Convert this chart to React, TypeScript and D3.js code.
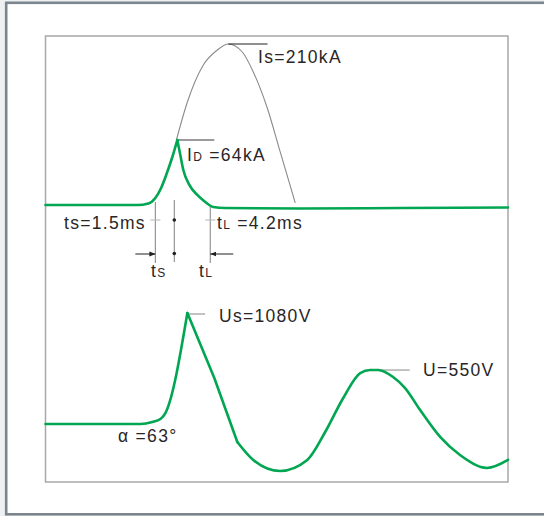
import * as d3 from "d3"

// time axis (schematic ms) and values
const currentRise = [
  { t: 0, v: 2.5 }, { t: 4.75, v: 2.5 }, { t: 7.95, v: 2.5 }, { t: 8.9, v: 4.5 },
  { t: 9.5, v: 11.6 }, { t: 10.0, v: 24.5 }, { t: 10.5, v: 43.8 }, { t: 10.97, v: 64.4 },
  { t: 11.4, v: 86.3 },
]
const currentDecay = [
  { t: 11.4, v: 86.3 }, { t: 11.66, v: 67 }, { t: 11.92, v: 47.7 }, { t: 12.44, v: 28.4 },
  { t: 13.13, v: 15.5 }, { t: 13.82, v: 6.4 }, { t: 14.51, v: 0 }, { t: 15.55, v: -1.3 },
  { t: 22.03, v: -1.9 }, { t: 30.67, v: -1.3 }, { t: 40, v: -0.6 },
]
const surgeArch = [
  { t: 11.32, v: 86.3 }, { t: 12.27, v: 135.3 }, { t: 13.65, v: 183 }, { t: 14.86, v: 202.3 },
  { t: 15.81, v: 210 }, { t: 17.02, v: 199.7 }, { t: 17.97, v: 174 }, { t: 19.18, v: 127.6 },
  { t: 20.3, v: 70.9 }, { t: 21.6, v: 5.2 },
]
const voltageRise = [
  { t: 0, v: 0 }, { t: 4.75, v: 0 }, { t: 8.21, v: 0 }, { t: 9.24, v: 19 },
  { t: 9.94, v: 49 }, { t: 10.37, v: 107 }, { t: 12.27, v: 1080 },
]
const voltageFall = [
  { t: 12.27, v: 1080 }, { t: 14.6, v: 448 }, { t: 16.59, v: -175 },
]
const voltageTail = [
  { t: 16.59, v: -175 }, { t: 17.97, v: -350 }, { t: 20.3, v: -457 }, { t: 22.64, v: -350 },
  { t: 24.19, v: -78 }, { t: 25.75, v: 253 }, { t: 27.22, v: 496 }, { t: 28.08, v: 525 },
  { t: 28.77, v: 525 }, { t: 30.06, v: 457 }, { t: 31.1, v: 350 }, { t: 32.4, v: 136 },
  { t: 34.13, v: -126 }, { t: 35.85, v: -302 }, { t: 38.19, v: -428 }, { t: 40, v: -350 },
]
// ts start, peak, tL end
const markerTimes = [9.5, 11.14, 14.25]
const Is = { t: 15.81, v: 210, end: 19.2 }
const ID = { t: 11.4, v: 86.3, end: 14.6 }
const Us = { t: 12.27, v: 1080, end: 13.8 }
const U = { t: 28.77, v: 525, end: 31.5 }

const W = 544
const H = 516
const plot = { left: 45.5, top: 36, right: 508, bottom: 482 }

const green = "#00a651"
const font = "'Liberation Sans', Arial, sans-serif"

export default function App() {
  const x = d3.scaleLinear().domain([0, 40]).range([plot.left, plot.right])
  const yI = d3.scaleLinear().domain([0, 210]).range([207, 44])
  const yU = d3.scaleLinear().domain([0, 1080]).range([424, 313])

  const lineI = d3.line<{ t: number; v: number }>().x((d) => x(d.t)).y((d) => yI(d.v)).curve(d3.curveMonotoneX)
  const lineU = d3.line<{ t: number; v: number }>().x((d) => x(d.t)).y((d) => yU(d.v)).curve(d3.curveMonotoneX)
  const lineUStraight = d3.line<{ t: number; v: number }>().x((d) => x(d.t)).y((d) => yU(d.v))

  const [m0, m1, m2] = markerTimes.map((t) => x(t))
  const txt = { fontFamily: font, fontSize: 17.5, fill: "#2a2627", letterSpacing: 1.3 }

  return (
    <div style={{ position: "fixed", left: 0, top: 0 }}>
      <svg width={W} height={H}>
        <defs>
          <marker id="arr" viewBox="0 0 10 10" refX="10" refY="5" markerWidth="6" markerHeight="6" orient="auto">
            <path d="M0,1 L10,5 L0,9 Z" fill="#231f20" />
          </marker>
        </defs>
        <rect x={0} y={0} width={W} height={H} fill="#eef0f2" />
        <rect x={6.2} y={2.8} width={W + 10} height={511.5} fill="#fff" stroke="#7b858b" strokeWidth={2.6} />
        <rect
          x={plot.left}
          y={plot.top}
          width={plot.right - plot.left}
          height={plot.bottom - plot.top}
          fill="#fff"
          stroke="#a8a8a8"
          strokeWidth={1.5}
        />

        {/* surge current arch */}
        <path d={lineI(surgeArch) ?? ""} fill="none" stroke="#8a8a8a" strokeWidth={1.1} />

        {/* marker lines */}
        <g stroke="#8c8c8c" strokeWidth={1.1}>
          <line x1={m0} x2={m0} y1={202} y2={263} />
          <line x1={m1} x2={m1} y1={200} y2={262} />
          <line x1={m2} x2={m2} y1={207} y2={263} />
          <line x1={m0 - 5} x2={m0 + 5} y1={220} y2={220} stroke="#bbb" />
          <line x1={m2 - 5} x2={m2 + 5} y1={220} y2={220} stroke="#bbb" />
        </g>
        <circle cx={m1} cy={220} r={1.8} fill="#231f20" />
        <circle cx={m1} cy={253.5} r={1.8} fill="#231f20" />
        <line x1={m0 - 20} x2={m0} y1={254} y2={254} stroke="#231f20" strokeWidth={1} markerEnd="url(#arr)" />
        <line x1={m2 + 23} x2={m2} y1={254} y2={254} stroke="#231f20" strokeWidth={1} markerEnd="url(#arr)" />

        {/* annotation leaders */}
        <line x1={x(Is.t)} x2={x(Is.end)} y1={yI(Is.v)} y2={yI(Is.v)} stroke="#231f20" strokeWidth={1.2} />
        <line x1={x(ID.t)} x2={x(ID.end)} y1={yI(ID.v)} y2={yI(ID.v)} stroke="#7a7a7a" strokeWidth={1.6} />
        <line x1={x(Us.t)} x2={x(Us.end)} y1={yU(Us.v) + 1} y2={yU(Us.v) + 1} stroke="#9a9a9a" strokeWidth={1.2} />
        <line x1={x(U.t)} x2={x(U.end)} y1={yU(U.v)} y2={yU(U.v)} stroke="#9a9a9a" strokeWidth={1.2} />

        {/* green curves */}
        <g fill="none" stroke={green} strokeWidth={2.6} strokeLinecap="round" strokeLinejoin="round">
          <path d={lineI(currentRise) ?? ""} />
          <path d={lineI(currentDecay) ?? ""} />
          <path d={lineU(voltageRise) ?? ""} />
          <path d={lineUStraight(voltageFall) ?? ""} />
          <path d={lineU(voltageTail) ?? ""} />
        </g>

        {/* labels */}
        <text x={258} y={63} style={txt}>Is=210kA</text>
        <text x={187} y={161} style={txt}>
          I<tspan fontSize={12}>D</tspan> =64kA
        </text>
        <text x={64} y={229} style={txt}>ts=1.5ms</text>
        <text x={217} y={229} style={txt}>
          t<tspan fontSize={12}>L</tspan> =4.2ms
        </text>
        <text x={151} y={277} style={txt}>
          t<tspan fontSize={12}>S</tspan>
        </text>
        <text x={199} y={277} style={txt}>
          t<tspan fontSize={12}>L</tspan>
        </text>
        <text x={219} y={322} style={txt}>Us=1080V</text>
        <text x={423} y={376} style={txt}>U=550V</text>
        <text x={118} y={442} style={txt}>α =63°</text>
      </svg>
    </div>
  )
}
